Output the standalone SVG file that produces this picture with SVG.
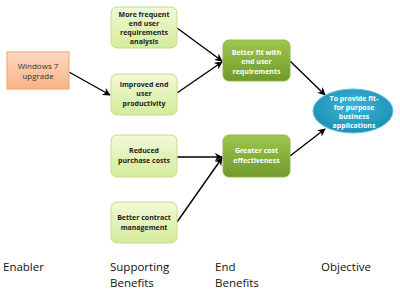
<svg xmlns="http://www.w3.org/2000/svg" width="400" height="295" viewBox="0 0 400 295">
<defs>
<linearGradient id="gOr" x1="0" y1="0" x2="0" y2="1"><stop offset="0" stop-color="#fcd9c0"/><stop offset="1" stop-color="#f9b386"/></linearGradient>
<linearGradient id="gLg" x1="0" y1="0" x2="0" y2="1"><stop offset="0" stop-color="#f1f9d8"/><stop offset="1" stop-color="#d4ec9a"/></linearGradient>
<linearGradient id="gDg" x1="0" y1="0" x2="0" y2="1"><stop offset="0" stop-color="#9fc74e"/><stop offset="1" stop-color="#6f9a2a"/></linearGradient>
<radialGradient id="gBl" cx="0.5" cy="0.4" r="0.6"><stop offset="0" stop-color="#3cb5d6"/><stop offset="1" stop-color="#1c8fb5"/></radialGradient>
<marker id="ah" viewBox="0 0 10 10" refX="9" refY="5" markerWidth="8" markerHeight="8" markerUnits="userSpaceOnUse" orient="auto"><path d="M0,0 L10,5 L0,10 L3,5 Z" fill="#000"/></marker>
</defs>
<style>
.en{fill:url(#gOr);stroke:#f2a26c;stroke-width:1}
.sb{fill:url(#gLg);stroke:#c4df8a;stroke-width:1}
.eb{fill:url(#gDg);stroke:#8fb84a;stroke-width:1}
.ob{fill:url(#gBl);stroke:#5fc3df;stroke-width:1}
.t{font-family:"Open Sans","Liberation Sans",sans-serif;font-size:7px;text-anchor:middle}
.tb{font-weight:bold;fill:#222}
.tw{font-weight:bold;fill:#fff}
.to{fill:#333;font-size:8px}
.lab{font-family:"Open Sans","Liberation Sans",sans-serif;font-size:11.5px;fill:#111}
.c{stroke:#000;stroke-width:1.4;fill:none;marker-end:url(#ah)}
</style>
<g id="connectors">
<line class="c" x1="69" y1="72" x2="110" y2="95"/>
<line class="c" x1="177" y1="28" x2="222" y2="61"/>
<line class="c" x1="177" y1="93" x2="222" y2="62"/>
<line class="c" x1="290" y1="61" x2="325" y2="95"/>
<line class="c" x1="177" y1="157" x2="222" y2="157"/>
<line class="c" x1="177" y1="222" x2="222" y2="158"/>
<line class="c" x1="290" y1="156" x2="325" y2="129"/>
</g>
<g id="enabler">
<rect class="en" x="7" y="52" width="62" height="37"/>
<text class="t to" x="38" y="69">Windows 7</text>
<text class="t to" x="38" y="79">upgrade</text>
</g>
<g id="sb1">
<rect class="sb" x="111" y="7" width="66" height="41" rx="6"/>
<text class="t tb" x="144" y="17">More frequent</text>
<text class="t tb" x="144" y="26">end user</text>
<text class="t tb" x="144" y="35">requirements</text>
<text class="t tb" x="144" y="44">analysis</text>
</g>
<g id="sb2">
<rect class="sb" x="111" y="74" width="66" height="41" rx="6"/>
<text class="t tb" x="144" y="87">Improved end</text>
<text class="t tb" x="144" y="96">user</text>
<text class="t tb" x="144" y="106">productivity</text>
</g>
<g id="sb3">
<rect class="sb" x="111" y="135" width="66" height="42" rx="6"/>
<text class="t tb" x="144" y="153">Reduced</text>
<text class="t tb" x="144" y="163">purchase costs</text>
</g>
<g id="sb4">
<rect class="sb" x="111" y="202" width="66" height="41" rx="6"/>
<text class="t tb" x="144" y="220">Better contract</text>
<text class="t tb" x="144" y="230">management</text>
</g>
<g id="eb1">
<rect class="eb" x="223" y="40" width="67" height="41" rx="6"/>
<text class="t tw" x="256.5" y="55">Better fit with</text>
<text class="t tw" x="256.5" y="64">end user</text>
<text class="t tw" x="256.5" y="74">requirements</text>
</g>
<g id="eb2">
<rect class="eb" x="223" y="135" width="67" height="42" rx="6"/>
<text class="t tw" x="256.5" y="153">Greater cost</text>
<text class="t tw" x="256.5" y="163">effectiveness</text>
</g>
<g id="objective">
<ellipse class="ob" cx="353" cy="111" rx="40" ry="22"/>
<text class="t tw" x="354" y="101">To provide fit-</text>
<text class="t tw" x="354" y="110">for purpose</text>
<text class="t tw" x="354" y="119">business</text>
<text class="t tw" x="354" y="128">applications</text>
</g>
<g id="labels">
<text class="lab" x="3" y="271">Enabler</text>
<text class="lab" x="110" y="271">Supporting</text>
<text class="lab" x="110" y="287">Benefits</text>
<text class="lab" x="215" y="271">End</text>
<text class="lab" x="215" y="287">Benefits</text>
<text class="lab" x="321" y="271">Objective</text>
</g>
</svg>
